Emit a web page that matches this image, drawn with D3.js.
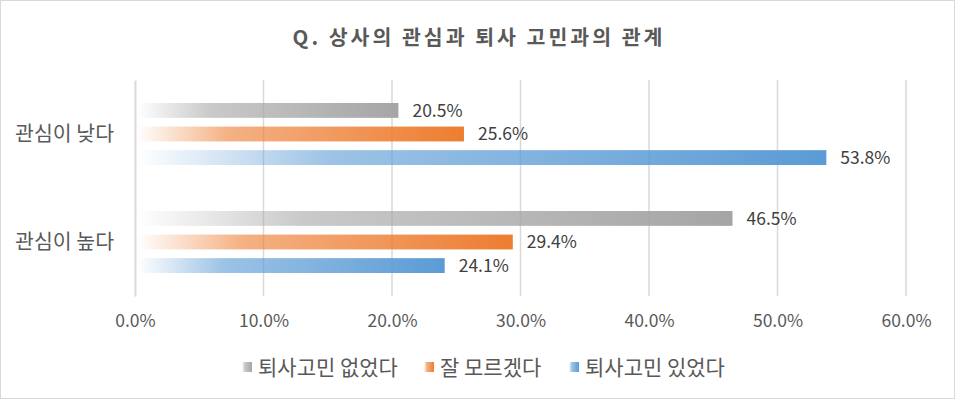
<!DOCTYPE html>
<html>
<head>
<meta charset="utf-8">
<script src="https://cdn.jsdelivr.net/npm/d3@7"></script>
<style>
  body { margin: 0; background: #fff; }
  svg text { font-family: "Noto Sans CJK KR", "Noto Sans", sans-serif; }
</style>
</head>
<body>
<svg id="chart" width="955" height="399"></svg>
<script>
// chart data
var categories = ["관심이 낮다", "관심이 높다"];
var seriesNames = ["퇴사고민 없었다", "잘 모르겠다", "퇴사고민 있었다"];
var seriesColors = ["#a5a5a5", "#ed7d31", "#5b9bd5"];
var noWorry = [20.5, 46.5];
var unsure = [25.6, 29.4];
var worried = [53.8, 24.1];
var xTicks = [0, 10, 20, 30, 40, 50, 60];
var title = "Q. 상사의 관심과 퇴사 고민과의 관계";

var margin = {top: 80, right: 49, bottom: 103, left: 135};
var width = 955 - margin.left - margin.right;
var height = 399 - margin.top - margin.bottom;

var svg = d3.select("#chart");

// outer border
svg.append("rect")
    .attr("x", 0.5).attr("y", 0.5)
    .attr("width", 954).attr("height", 398)
    .attr("fill", "#fff")
    .attr("stroke", "#d9d9d9");

// gradients, white on the left to full colour on the right
var defs = svg.append("defs");
seriesColors.forEach(function(c, i) {
    var g = defs.append("linearGradient")
        .attr("id", "grad" + i)
        .attr("x1", "0%").attr("x2", "100%")
        .attr("y1", "0%").attr("y2", "0%");
    g.append("stop").attr("offset", "0%").attr("stop-color", c).attr("stop-opacity", 0);
    g.append("stop").attr("offset", "28%").attr("stop-color", c).attr("stop-opacity", 0.6);
    g.append("stop").attr("offset", "100%").attr("stop-color", c).attr("stop-opacity", 1);
});

// title
svg.append("text")
    .attr("x", 479)
    .attr("y", 45)
    .attr("text-anchor", "middle")
    .style("font-size", "20.5px")
    .style("font-weight", "bold")
    .style("letter-spacing", "3px")
    .style("fill", "#595959")
    .text(title);

var g = svg.append("g")
    .attr("transform", "translate(" + margin.left + "," + margin.top + ")");

var xScale = d3.scaleLinear().domain([0, 60]).range([0, width]);
var yScale = d3.scaleBand().domain(categories).range([0, height]);
var inner = d3.scaleBand().domain(seriesNames)
    .range([yScale.bandwidth() / 2 - 31, yScale.bandwidth() / 2 + 31])
    .paddingInner(0.37).paddingOuter(0);

// gridlines
g.selectAll(".grid")
    .data(xTicks.slice(1))
    .enter().append("line")
    .attr("class", "grid")
    .attr("x1", function(d) { return xScale(d); })
    .attr("x2", function(d) { return xScale(d); })
    .attr("y1", 0)
    .attr("y2", height)
    .attr("stroke", "#d9d9d9")
    .attr("stroke-width", 1.5);

// x axis labels
var xAxis = d3.axisBottom(xScale)
    .tickValues(xTicks)
    .tickSize(0)
    .tickPadding(19)
    .tickFormat(function(d) { return d.toFixed(1) + "%"; });

var xg = g.append("g")
    .attr("class", "axis axis--x")
    .attr("transform", "translate(0," + height + ")")
    .call(xAxis);
xg.select(".domain").remove();
xg.selectAll("text")
    .style("font-size", "17.5px")
    .style("fill", "#595959");

// category axis
var yAxis = d3.axisLeft(yScale).tickSize(0).tickPadding(21);
var yg = g.append("g").attr("class", "axis axis--y").call(yAxis);
yg.select(".domain").attr("stroke", "#d9d9d9").attr("stroke-width", 2);
yg.selectAll("text")
    .style("font-size", "20.5px")
    .style("fill", "#595959")
    .attr("dy", "0.36em");

// bars
var rows = [];
categories.forEach(function(cat, i) {
    [noWorry, unsure, worried].forEach(function(vals, j) {
        rows.push({cat: cat, series: seriesNames[j], idx: j, value: vals[i]});
    });
});

g.selectAll(".bar")
    .data(rows)
    .enter().append("rect")
    .attr("class", "bar")
    .attr("x", xScale(0) + 2)
    .attr("y", function(d) { return yScale(d.cat) + inner(d.series); })
    .attr("width", function(d) { return xScale(d.value) - xScale(0) - 2; })
    .attr("height", inner.bandwidth())
    .attr("fill", function(d) { return "url(#grad" + d.idx + ")"; });

// value labels
g.selectAll(".label")
    .data(rows)
    .enter().append("text")
    .attr("class", "label")
    .attr("x", function(d) { return xScale(d.value) + 14; })
    .attr("y", function(d) { return yScale(d.cat) + inner(d.series) + inner.bandwidth() / 2; })
    .attr("dy", "0.36em")
    .style("font-size", "17.5px")
    .style("fill", "#404040")
    .text(function(d) { return d.value.toFixed(1) + "%"; });

// legend
var legendX = [242, 424, 569];
var legend = svg.selectAll(".legend")
    .data(seriesNames)
    .enter().append("g")
    .attr("class", "legend")
    .attr("transform", function(d, i) { return "translate(" + legendX[i] + ",367)"; });

legend.append("rect")
    .attr("x", 0).attr("y", -5)
    .attr("width", 10).attr("height", 10)
    .attr("fill", function(d, i) { return "url(#grad" + i + ")"; });

legend.append("text")
    .attr("x", 16)
    .attr("y", 0)
    .attr("dy", "0.36em")
    .style("font-size", "21px")
    .style("fill", "#595959")
    .text(function(d) { return d; });
</script>
</body>
</html>
